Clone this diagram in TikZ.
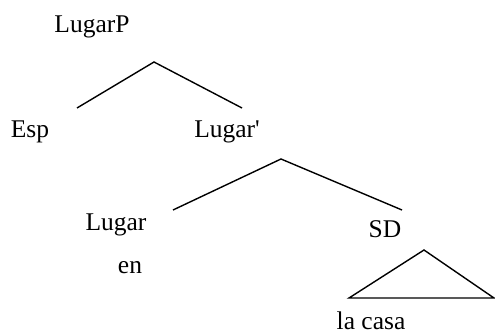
\documentclass[tikz,border=0pt]{standalone}
\usepackage{fontspec}
\setmainfont{Liberation Serif}
\begin{document}
\begin{tikzpicture}[x=1pt,y=-1pt,
  lbl/.style={anchor=base,inner sep=0pt,font=\fontsize{25.5}{30}\selectfont},
  branch/.style={line width=1.4pt,line join=miter}]
\useasboundingbox (0,0) rectangle (495,334);
\node[lbl] (lp) at (92,33) {LugarP};
\node[lbl] (esp) at (30,137) {Esp};
\node[lbl] (lbar) at (227,137) {Lugar\textquotesingle};
\node[lbl] (lugar) at (116,230) {Lugar};
\node[lbl] (en) at (130,273) {en};
\node[lbl] (sd) at (385,237) {SD};
\node[lbl] (casa) at (371,329) {la casa};
\coordinate (p1) at (154,62);
\coordinate (p1l) at (77,108);
\coordinate (p1r) at (242,108);
\coordinate (p2) at (281,159);
\coordinate (p2l) at (173,210);
\coordinate (p2r) at (402,210);
\coordinate (t) at (424,250);
\coordinate (tl) at (349,298);
\coordinate (tr) at (494,298);
\draw[branch] (p1l) -- (p1) -- (p1r);
\draw[branch] (p2l) -- (p2) -- (p2r);
\draw[branch] (tl) -- (t) -- (tr) -- cycle;
\end{tikzpicture}
\end{document}
